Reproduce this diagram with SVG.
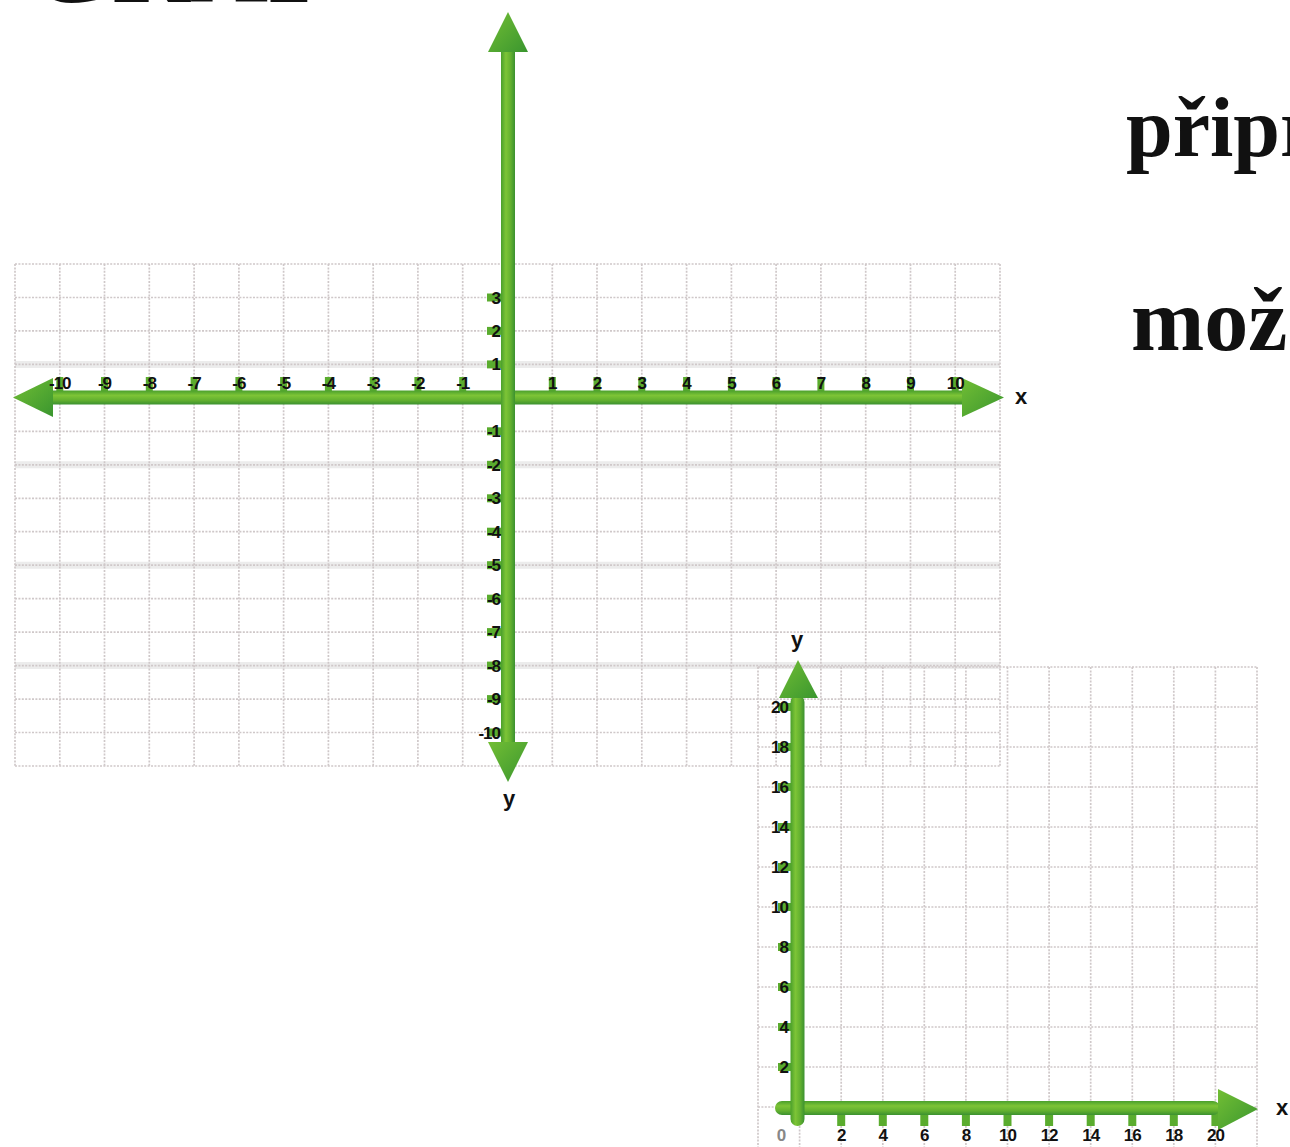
<svg xmlns="http://www.w3.org/2000/svg" width="1290" height="1147" viewBox="0 0 1290 1147">
<defs>
<linearGradient id="gh" x1="0" y1="0" x2="0" y2="1">
<stop offset="0" stop-color="#4a9f2c"/><stop offset="0.35" stop-color="#7dc436"/><stop offset="0.7" stop-color="#62b02f"/><stop offset="1" stop-color="#3b9130"/>
</linearGradient>
<linearGradient id="gv" x1="0" y1="0" x2="1" y2="0">
<stop offset="0" stop-color="#4a9f2c"/><stop offset="0.35" stop-color="#7dc436"/><stop offset="0.7" stop-color="#62b02f"/><stop offset="1" stop-color="#3b9130"/>
</linearGradient>
<linearGradient id="ga" x1="0" y1="0" x2="1" y2="1">
<stop offset="0" stop-color="#72be34"/><stop offset="1" stop-color="#3a962f"/>
</linearGradient>
<style>
.grid{fill:none;stroke:#cfc8c9;stroke-width:1.7;stroke-dasharray:2 1.4}
.band{fill:none;stroke:#ececec;stroke-width:7}
.tick{fill:#5aac2e}
.lbl{font-family:"Liberation Sans",Arial,sans-serif;font-weight:bold;font-size:17px;letter-spacing:-1px;fill:#111}
.ax{font-family:"Liberation Sans",Arial,sans-serif;font-weight:bold;font-size:22px;fill:#111}
.big{font-family:"Liberation Serif","Times New Roman",serif;fill:#111}
</style>
</defs>
<rect width="1290" height="1147" fill="#ffffff"/>

<g id="title">
<text class="big" x="28" y="1.5" font-size="108" font-weight="bold">GRAF</text>
</g>
<g id="text-right">
<text class="big" x="1126" y="156" font-size="84" font-weight="bold">připr</text>
<text class="big" x="1131" y="350" font-size="88" font-weight="bold">mož</text>
</g>

<g id="grid1">
<path class="band" d="M15 364.4H1000M15 464.8H1000M15 565.2H1000M15 665.6H1000"/>
<path class="grid" d="M15 264V766M59.8 264V766M104.5 264V766M149.3 264V766M194.1 264V766M238.9 264V766M283.6 264V766M328.4 264V766M373.2 264V766M417.9 264V766M462.7 264V766M507.5 264V766M552.3 264V766M597 264V766M641.8 264V766M686.6 264V766M731.4 264V766M776.1 264V766M820.9 264V766M865.7 264V766M910.5 264V766M955.2 264V766M1000 264V766"/>
<path class="grid" d="M15 264H1000M15 297.5H1000M15 330.9H1000M15 364.4H1000M15 397.9H1000M15 431.3H1000M15 464.8H1000M15 498.3H1000M15 531.7H1000M15 565.2H1000M15 598.7H1000M15 632.1H1000M15 665.6H1000M15 699.1H1000M15 732.5H1000M15 766H1000"/>
</g>

<g id="grid2">
<path class="grid" d="M758 667V1147M799.6 667V1147M841.2 667V1147M882.8 667V1147M924.3 667V1147M965.9 667V1147M1007.5 667V1147M1049.1 667V1147M1090.7 667V1147M1132.3 667V1147M1173.8 667V1147M1215.4 667V1147M1257 667V1147"/>
<path class="grid" d="M758 667H1257M758 707H1257M758 747H1257M758 787H1257M758 827H1257M758 867H1257M758 907H1257M758 947H1257M758 987H1257M758 1027H1257M758 1067H1257M758 1107H1257"/>
</g>

<g id="ticks1">
<rect class="tick" x="56.3" y="377" width="7" height="14"/><rect class="tick" x="101" y="377" width="7" height="14"/><rect class="tick" x="145.8" y="377" width="7" height="14"/><rect class="tick" x="190.6" y="377" width="7" height="14"/><rect class="tick" x="235.4" y="377" width="7" height="14"/><rect class="tick" x="280.1" y="377" width="7" height="14"/><rect class="tick" x="324.9" y="377" width="7" height="14"/><rect class="tick" x="369.7" y="377" width="7" height="14"/><rect class="tick" x="414.4" y="377" width="7" height="14"/><rect class="tick" x="459.2" y="377" width="7" height="14"/>
<rect class="tick" x="548.8" y="377" width="7" height="14"/><rect class="tick" x="593.5" y="377" width="7" height="14"/><rect class="tick" x="638.3" y="377" width="7" height="14"/><rect class="tick" x="683.1" y="377" width="7" height="14"/><rect class="tick" x="727.9" y="377" width="7" height="14"/><rect class="tick" x="772.6" y="377" width="7" height="14"/><rect class="tick" x="817.4" y="377" width="7" height="14"/><rect class="tick" x="862.2" y="377" width="7" height="14"/><rect class="tick" x="907" y="377" width="7" height="14"/><rect class="tick" x="951.7" y="377" width="7" height="14"/>
<rect class="tick" x="487" y="293.5" width="16" height="8"/><rect class="tick" x="487" y="326.9" width="16" height="8"/><rect class="tick" x="487" y="360.4" width="16" height="8"/><rect class="tick" x="487" y="427.3" width="16" height="8"/><rect class="tick" x="487" y="460.8" width="16" height="8"/><rect class="tick" x="487" y="494.3" width="16" height="8"/><rect class="tick" x="487" y="527.7" width="16" height="8"/><rect class="tick" x="487" y="561.2" width="16" height="8"/><rect class="tick" x="487" y="594.7" width="16" height="8"/><rect class="tick" x="487" y="628.1" width="16" height="8"/><rect class="tick" x="487" y="661.6" width="16" height="8"/><rect class="tick" x="487" y="695.1" width="16" height="8"/><rect class="tick" x="487" y="728.5" width="16" height="8"/>
</g>

<g id="ticks2">
<rect class="tick" x="778" y="703" width="14" height="8"/><rect class="tick" x="778" y="743" width="14" height="8"/><rect class="tick" x="778" y="783" width="14" height="8"/><rect class="tick" x="778" y="823" width="14" height="8"/><rect class="tick" x="778" y="863" width="14" height="8"/><rect class="tick" x="778" y="903" width="14" height="8"/><rect class="tick" x="778" y="943" width="14" height="8"/><rect class="tick" x="778" y="983" width="14" height="8"/><rect class="tick" x="778" y="1023" width="14" height="8"/><rect class="tick" x="778" y="1063" width="14" height="8"/>
<rect class="tick" x="837.2" y="1112" width="8" height="14"/><rect class="tick" x="878.8" y="1112" width="8" height="14"/><rect class="tick" x="920.3" y="1112" width="8" height="14"/><rect class="tick" x="961.9" y="1112" width="8" height="14"/><rect class="tick" x="1003.5" y="1112" width="8" height="14"/><rect class="tick" x="1045.1" y="1112" width="8" height="14"/><rect class="tick" x="1086.7" y="1112" width="8" height="14"/><rect class="tick" x="1128.3" y="1112" width="8" height="14"/><rect class="tick" x="1169.8" y="1112" width="8" height="14"/><rect class="tick" x="1211.4" y="1112" width="8" height="14"/>
</g>

<g id="connectors">
<rect x="50" y="390.5" width="914" height="14" fill="url(#gh)"/>
<polygon points="13,397.5 53,378 53,417" fill="url(#ga)"/>
<polygon points="1004,397.5 962,378 962,417" fill="url(#ga)"/>
<rect x="501" y="50" width="14" height="694" fill="url(#gv)"/>
<polygon points="508,12 488,52 528,52" fill="url(#ga)"/>
<polygon points="508,782 488,742 528,742" fill="url(#ga)"/>
<rect x="775" y="1101" width="445" height="14" rx="7" fill="url(#gh)"/>
<polygon points="1258,1109 1218,1089 1218,1130" fill="url(#ga)"/>
<rect x="790.5" y="695" width="14" height="431" rx="7" fill="url(#gv)"/>
<polygon points="798,660 779,698 818,698" fill="url(#ga)"/>
</g>

<g id="labels1" class="lbl" text-anchor="middle">
<text x="59.8" y="389">-10</text><text x="104.5" y="389">-9</text><text x="149.3" y="389">-8</text><text x="194.1" y="389">-7</text><text x="238.9" y="389">-6</text><text x="283.6" y="389">-5</text><text x="328.4" y="389">-4</text><text x="373.2" y="389">-3</text><text x="417.9" y="389">-2</text><text x="462.7" y="389">-1</text>
<text x="552.3" y="389">1</text><text x="597" y="389">2</text><text x="641.8" y="389">3</text><text x="686.6" y="389">4</text><text x="731.4" y="389">5</text><text x="776.1" y="389">6</text><text x="820.9" y="389">7</text><text x="865.7" y="389">8</text><text x="910.5" y="389">9</text><text x="955.2" y="389">10</text>
<g text-anchor="end">
<text x="500" y="303.5">3</text><text x="500" y="336.9">2</text><text x="500" y="370.4">1</text><text x="500" y="437.3">-1</text><text x="500" y="470.8">-2</text><text x="500" y="504.3">-3</text><text x="500" y="537.7">-4</text><text x="500" y="571.2">-5</text><text x="500" y="604.7">-6</text><text x="500" y="638.1">-7</text><text x="500" y="671.6">-8</text><text x="500" y="705.1">-9</text><text x="500" y="738.5">-10</text>
</g>
</g>

<g id="labels2" class="lbl">
<g text-anchor="end">
<text x="788" y="713">20</text><text x="788" y="753">18</text><text x="788" y="793">16</text><text x="788" y="833">14</text><text x="788" y="873">12</text><text x="788" y="913">10</text><text x="788" y="953">8</text><text x="788" y="993">6</text><text x="788" y="1033">4</text><text x="788" y="1073">2</text>
</g>
<g text-anchor="middle">
<text x="781" y="1141" fill="#888">0</text><text x="841.2" y="1141">2</text><text x="882.8" y="1141">4</text><text x="924.3" y="1141">6</text><text x="965.9" y="1141">8</text><text x="1007.5" y="1141">10</text><text x="1049.1" y="1141">12</text><text x="1090.7" y="1141">14</text><text x="1132.3" y="1141">16</text><text x="1173.8" y="1141">18</text><text x="1215.4" y="1141">20</text>
</g>
</g>

<g id="axis-names" class="ax" text-anchor="middle">
<text x="1021" y="404">x</text>
<text x="509" y="806">y</text>
<text x="797" y="647">y</text>
<text x="1282" y="1115">x</text>
</g>
</svg>
